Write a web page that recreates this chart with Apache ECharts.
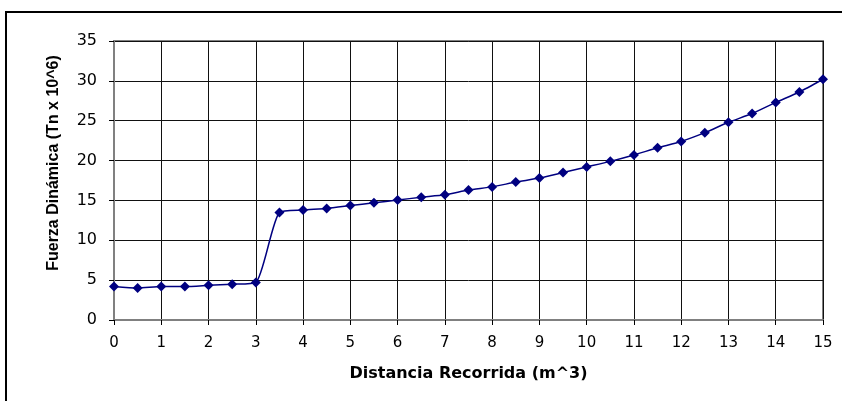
<!DOCTYPE html>
<html>
<head>
<meta charset="utf-8">
<script src="https://cdn.jsdelivr.net/npm/echarts@6/dist/echarts.min.js"></script>
<style>html,body{margin:0;padding:0;background:#fff;}#c{width:842px;height:401px;}</style>
</head>
<body>
<div id="c"></div>
<script>
const xValues = [0,0.5,1,1.5,2,2.5,3,3.5,4,4.5,5,5.5,6,6.5,7,7.5,8,8.5,9,9.5,10,10.5,11,11.5,12,12.5,13,13.5,14,14.5,15];
const fuerza = [4.2,4.0,4.2,4.2,4.35,4.5,4.7,13.5,13.8,14.0,14.35,14.7,15.05,15.4,15.7,16.3,16.7,17.3,17.8,18.5,19.2,19.9,20.7,21.6,22.4,23.5,24.8,25.9,27.3,28.6,30.2];
const xTitle = 'Distancia Recorrida (m^3)';
const yTitle = 'Fuerza Dinámica (Tn x 10^6)';

const chart = echarts.init(document.getElementById('c'), null, {renderer:'canvas'});
chart.setOption({
  animation: false,
  backgroundColor: '#fff',
  grid: {left:114, right:19, top:41, bottom:81, show:true, borderColor:'#808080', borderWidth:2, backgroundColor:'#fff'},
  xAxis: {
    type:'value', min:0, max:15, interval:1,
    name: xTitle, nameLocation:'middle', nameGap:46,
    nameTextStyle:{fontFamily:'DejaVu Sans', fontWeight:'bold', fontSize:16, color:'#000'},
    axisLine:{show:true, onZero:false, lineStyle:{color:'#808080', width:2}},
    axisTick:{show:true, length:5, lineStyle:{color:'#000', width:1}},
    axisLabel:{fontFamily:'DejaVu Sans', fontSize:15, color:'#000', margin:16},
    splitLine:{show:true, lineStyle:{color:'#111', width:1}}
  },
  yAxis: {
    type:'value', min:0, max:35, interval:5,
    axisLine:{show:true, onZero:false, lineStyle:{color:'#808080', width:2}},
    axisTick:{show:true, length:5, lineStyle:{color:'#000', width:1}},
    axisLabel:{fontFamily:'DejaVu Sans', fontSize:16, color:'#000', margin:17},
    splitLine:{show:true, lineStyle:{color:'#111', width:1}}
  },
  graphic: [
    {type:'rect', shape:{x:6, y:12, width:900, height:500}, style:{fill:'none', stroke:'#000', lineWidth:2}, z:-10},
    {type:'text', x:54, y:163, rotation:Math.PI/2,
     style:{text:yTitle, fontFamily:'Liberation Sans', fontWeight:'bold', fontSize:16, fill:'#000', align:'center', verticalAlign:'middle'}}
  ],
  series: [{
    type:'line',
    data: xValues.map((x,i)=>[x, fuerza[i]]),
    smooth: 0.2,
    symbol:'diamond', symbolSize:10,
    lineStyle:{color:'#000080', width:1.5},
    itemStyle:{color:'#000080'},
    z: 5
  }]
});
</script>
</body>
</html>
